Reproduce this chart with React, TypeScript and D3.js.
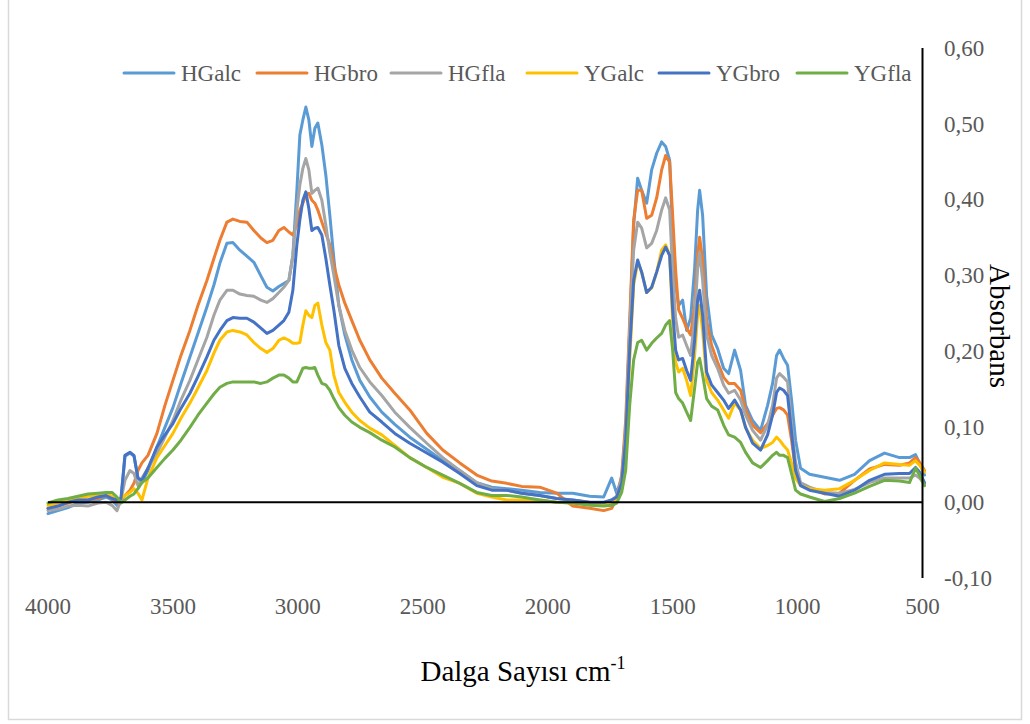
import React from "react";
import * as d3 from "d3";

// Wavenumbers (cm-1), shared by all series
const wavenumbers = [4000,3960,3920,3880,3840,3800,3768,3744,3724,3708,3692,3672,3656,3640,3624,3600,3564,3532,3500,3468,3432,3400,3364,3336,3312,3284,3260,3232,3204,3176,3148,3124,3100,3076,3056,3036,3020,3004,2992,2980,2968,2956,2944,2932,2920,2904,2888,2872,2856,2836,2812,2784,2752,2712,2664,2612,2552,2484,2420,2352,2284,2224,2164,2104,2032,1964,1900,1832,1776,1744,1724,1704,1688,1672,1656,1640,1624,1604,1584,1564,1544,1528,1512,1500,1488,1476,1460,1444,1428,1412,1400,1392,1380,1364,1344,1320,1296,1276,1252,1228,1208,1180,1148,1120,1100,1084,1072,1056,1040,1024,1008,988,952,892,832,772,712,652,592,552,528,512,492];

const HGalc = [-0.015,-0.011,-0.007,-0.001,0.000,0.003,0.007,0.003,-0.004,0.003,0.061,0.065,0.061,0.032,0.026,0.042,0.073,0.099,0.125,0.157,0.192,0.223,0.258,0.287,0.316,0.342,0.343,0.333,0.325,0.317,0.299,0.284,0.279,0.285,0.289,0.293,0.326,0.412,0.485,0.505,0.522,0.505,0.470,0.494,0.501,0.472,0.432,0.379,0.322,0.260,0.221,0.188,0.161,0.139,0.119,0.103,0.086,0.070,0.055,0.042,0.026,0.020,0.018,0.016,0.013,0.012,0.012,0.008,0.007,0.032,0.012,0.032,0.082,0.227,0.366,0.428,0.412,0.395,0.439,0.461,0.476,0.470,0.452,0.353,0.287,0.260,0.267,0.227,0.243,0.309,0.386,0.412,0.379,0.273,0.221,0.203,0.177,0.170,0.201,0.174,0.128,0.108,0.095,0.128,0.157,0.194,0.201,0.190,0.181,0.135,0.082,0.045,0.037,0.033,0.029,0.037,0.055,0.065,0.059,0.059,0.063,0.052,0.036];

const HGbro = [-0.008,-0.005,-0.001,0.003,0.003,0.005,0.009,0.005,0.000,0.003,0.009,0.016,0.025,0.042,0.052,0.062,0.091,0.128,0.161,0.194,0.227,0.260,0.293,0.322,0.346,0.370,0.374,0.371,0.370,0.359,0.349,0.343,0.346,0.359,0.363,0.357,0.353,0.366,0.386,0.395,0.406,0.408,0.399,0.395,0.386,0.370,0.355,0.340,0.313,0.287,0.263,0.240,0.214,0.188,0.164,0.144,0.122,0.091,0.069,0.052,0.036,0.028,0.025,0.021,0.020,0.012,-0.005,-0.008,-0.011,-0.008,0.005,0.036,0.108,0.240,0.373,0.412,0.412,0.375,0.379,0.402,0.439,0.458,0.449,0.379,0.306,0.254,0.243,0.230,0.221,0.260,0.326,0.350,0.320,0.240,0.207,0.185,0.165,0.157,0.157,0.148,0.122,0.102,0.092,0.104,0.115,0.124,0.125,0.122,0.115,0.082,0.042,0.024,0.018,0.011,0.012,0.029,0.044,0.050,0.049,0.052,0.059,0.053,0.042];

const HGfla = [-0.011,-0.009,-0.005,-0.004,-0.005,-0.001,0.000,-0.004,-0.011,0.003,0.029,0.042,0.038,0.022,0.032,0.045,0.065,0.086,0.108,0.135,0.161,0.188,0.218,0.247,0.267,0.280,0.280,0.275,0.273,0.272,0.267,0.264,0.269,0.277,0.284,0.293,0.326,0.386,0.419,0.441,0.454,0.439,0.408,0.412,0.415,0.399,0.366,0.330,0.300,0.260,0.227,0.201,0.178,0.159,0.141,0.119,0.099,0.078,0.059,0.042,0.026,0.018,0.016,0.012,0.009,0.005,0.003,0.000,-0.001,0.003,0.008,0.032,0.095,0.227,0.333,0.370,0.362,0.336,0.342,0.359,0.386,0.402,0.386,0.305,0.243,0.218,0.221,0.207,0.194,0.243,0.309,0.330,0.293,0.221,0.194,0.177,0.155,0.144,0.148,0.135,0.115,0.095,0.082,0.102,0.128,0.164,0.170,0.165,0.159,0.102,0.053,0.026,0.020,0.013,0.012,0.017,0.026,0.032,0.032,0.032,0.036,0.032,0.024];

const YGalc = [-0.004,-0.001,0.003,0.005,0.008,0.009,0.012,0.008,0.003,0.005,0.009,0.013,0.018,0.012,0.003,0.032,0.059,0.075,0.091,0.111,0.131,0.151,0.174,0.197,0.214,0.225,0.227,0.225,0.221,0.211,0.203,0.198,0.203,0.214,0.217,0.214,0.210,0.210,0.211,0.234,0.253,0.247,0.244,0.260,0.263,0.234,0.211,0.201,0.168,0.145,0.132,0.119,0.108,0.098,0.089,0.075,0.059,0.046,0.033,0.025,0.012,0.007,0.003,0.003,0.003,0.000,-0.001,-0.003,-0.004,-0.003,0.003,0.022,0.069,0.188,0.287,0.317,0.304,0.277,0.283,0.304,0.333,0.340,0.326,0.240,0.185,0.172,0.177,0.161,0.141,0.194,0.247,0.260,0.227,0.161,0.145,0.135,0.122,0.111,0.131,0.122,0.098,0.082,0.071,0.075,0.079,0.086,0.082,0.075,0.069,0.052,0.032,0.022,0.018,0.016,0.018,0.029,0.042,0.052,0.050,0.049,0.055,0.049,0.040];

const YGbro = [-0.008,-0.005,0.000,0.003,0.003,0.007,0.009,0.005,0.003,0.005,0.062,0.066,0.062,0.032,0.029,0.045,0.073,0.089,0.104,0.124,0.144,0.166,0.192,0.214,0.227,0.240,0.244,0.243,0.243,0.238,0.230,0.223,0.227,0.234,0.240,0.251,0.280,0.340,0.373,0.399,0.410,0.388,0.359,0.362,0.363,0.353,0.322,0.287,0.254,0.207,0.177,0.157,0.139,0.119,0.106,0.091,0.078,0.065,0.053,0.038,0.022,0.016,0.016,0.012,0.009,0.005,0.003,0.000,0.000,0.003,0.007,0.025,0.082,0.201,0.293,0.320,0.304,0.277,0.284,0.304,0.326,0.337,0.326,0.254,0.201,0.188,0.190,0.174,0.161,0.214,0.267,0.280,0.247,0.172,0.155,0.145,0.135,0.124,0.135,0.122,0.099,0.078,0.069,0.089,0.115,0.145,0.151,0.148,0.141,0.092,0.042,0.022,0.016,0.012,0.008,0.016,0.029,0.037,0.038,0.038,0.046,0.040,0.026];

const YGfla = [-0.001,0.003,0.005,0.008,0.011,0.012,0.013,0.013,0.007,-0.001,0.003,0.008,0.011,0.018,0.026,0.032,0.046,0.058,0.069,0.082,0.099,0.115,0.131,0.143,0.152,0.157,0.159,0.159,0.159,0.159,0.157,0.159,0.164,0.168,0.168,0.164,0.159,0.159,0.168,0.177,0.178,0.177,0.177,0.178,0.168,0.157,0.155,0.148,0.137,0.125,0.115,0.106,0.099,0.092,0.082,0.073,0.059,0.046,0.036,0.025,0.013,0.009,0.009,0.007,0.003,0.000,-0.001,-0.004,-0.005,-0.004,-0.001,0.013,0.042,0.128,0.188,0.211,0.214,0.201,0.210,0.217,0.223,0.234,0.240,0.201,0.145,0.137,0.131,0.119,0.108,0.151,0.185,0.190,0.168,0.137,0.127,0.122,0.102,0.089,0.086,0.079,0.066,0.052,0.046,0.055,0.062,0.066,0.062,0.062,0.059,0.038,0.016,0.011,0.007,0.001,0.005,0.012,0.021,0.029,0.028,0.026,0.045,0.036,0.022];

const seriesNames = ["HGalc", "HGbro", "HGfla", "YGalc", "YGbro", "YGfla"];
const seriesValues = [HGalc, HGbro, HGfla, YGalc, YGbro, YGfla];
const seriesColors = ["#5B9BD5", "#ED7D31", "#A5A5A5", "#FFC000", "#4472C4", "#70AD47"];

const xTicks = [4000, 3500, 3000, 2500, 2000, 1500, 1000, 500];
const yTicks = [-0.1, 0, 0.1, 0.2, 0.3, 0.4, 0.5, 0.6];

// layout
const W = 1030, H = 724;
const plot = { left: 48, right: 922.5, top: 48, bottom: 578 };
const legendLineX = [124, 257, 391, 527, 659, 797];
const legendY = 73;
const serif = '"Liberation Serif", "Times New Roman", serif';

export default function App() {
  const x = d3.scaleLinear().domain([4000, 500]).range([plot.left, plot.right]);
  const y = d3.scaleLinear().domain([-0.1, 0.6]).range([plot.bottom, plot.top]);

  const line = d3
    .line<number>()
    .x((_, i) => x(wavenumbers[i]))
    .y((d) => y(d))
    .curve(d3.curveLinear);

  const fmt = (v: number) => d3.format(".2f")(v).replace(".", ",").replace("−", "-");

  return (
    <svg
      width={W}
      height={H}
      style={{ position: "absolute", left: 0, top: 0, background: "#fff" }}
      fontFamily={serif}
    >
      <rect x={0} y={0} width={W} height={H} fill="#fff" />
      {/* chart area frame */}
      <path d={`M8.5,-2 V719.5 H1021.5 V-2`} fill="none" stroke="#d9d9d9" strokeWidth={1.5} />

      {/* series */}
      {seriesValues.map((vals, si) => (
        <path
          key={seriesNames[si]}
          d={line(vals) || ""}
          fill="none"
          stroke={seriesColors[si]}
          strokeWidth={3}
          strokeLinejoin="round"
          strokeLinecap="round"
        />
      ))}

      {/* horizontal axis at 0 */}
      <line x1={plot.left} x2={plot.right} y1={y(0)} y2={y(0)} stroke="#000" strokeWidth={2} />
      {/* vertical axis at 500 */}
      <line x1={x(500)} x2={x(500)} y1={plot.top} y2={plot.bottom} stroke="#000" strokeWidth={2} />

      {/* y tick labels */}
      {yTicks.map((t) => (
        <text
          key={t}
          x={944}
          y={y(t)}
          dy="0.35em"
          fontSize={23}
          fill="#595959"
        >
          {fmt(t)}
        </text>
      ))}

      {/* x tick labels */}
      {xTicks.map((t) => (
        <text key={t} x={x(t)} y={614} textAnchor="middle" fontSize={23} fill="#595959">
          {t}
        </text>
      ))}

      {/* axis titles */}
      <text x={523} y={681} textAnchor="middle" fontSize={29} fill="#000">
        Dalga Sayısı cm
        <tspan fontSize={18} dy={-12}>-1</tspan>
      </text>
      <text
        transform={`translate(1000,326) rotate(90)`}
        textAnchor="middle"
        dy="0.35em"
        fontSize={29}
        fill="#000"
      >
        Absorbans
      </text>

      {/* legend */}
      {seriesNames.map((n, i) => (
        <g key={n}>
          <line
            x1={legendLineX[i]}
            x2={legendLineX[i] + 50}
            y1={legendY}
            y2={legendY}
            stroke={seriesColors[i]}
            strokeWidth={3}
            strokeLinecap="round"
          />
          <text x={legendLineX[i] + 57} y={legendY} dy="0.35em" fontSize={23} fill="#595959">
            {n}
          </text>
        </g>
      ))}
    </svg>
  );
}
